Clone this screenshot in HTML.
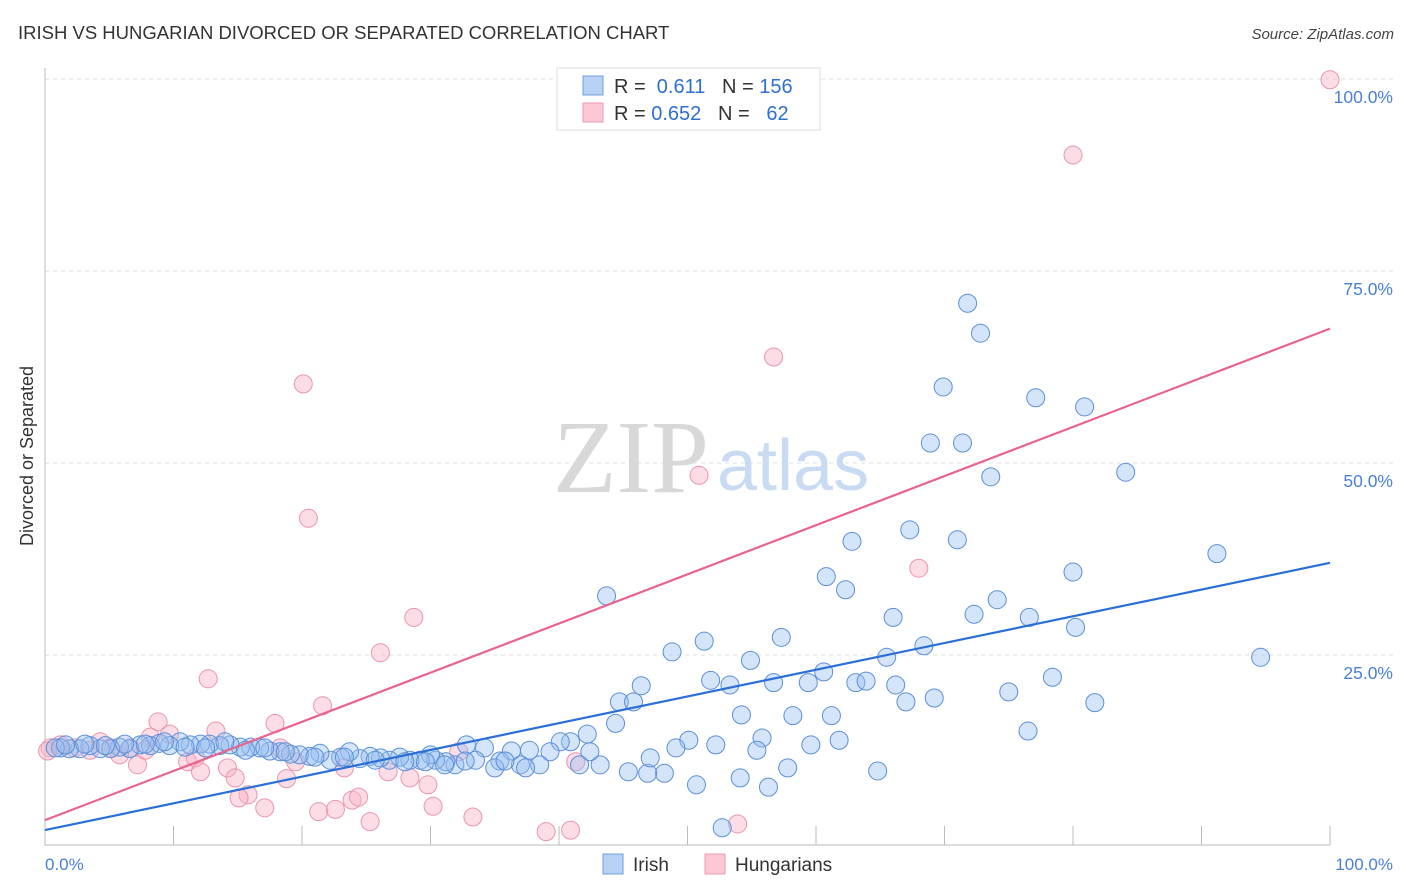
<!DOCTYPE html>
<html><head><meta charset="utf-8"><style>
body{margin:0;background:#fff;font-family:"Liberation Sans",sans-serif;}
svg{display:block}
</style></head><body>
<svg width="1406" height="892">
<text x="18" y="39" font-size="18.5" fill="#333">IRISH VS HUNGARIAN DIVORCED OR SEPARATED CORRELATION CHART</text>
<text x="1394" y="39" font-size="15" fill="#444" font-style="italic" text-anchor="end">Source: ZipAtlas.com</text>
<g id="grid"></g>
<text x="553" y="492" font-size="104" fill="#d8d8d8" font-family="Liberation Serif,serif">ZIP</text>
<text x="717" y="490" font-size="72" fill="#c9dbf2">atlas</text>
<line x1="45" y1="68" x2="45" y2="846" stroke="#bbb"/>
<line x1="45" y1="845" x2="1330" y2="845" stroke="#bbb"/>
<g id="ticks"></g>
<g id="pts"></g>
<g id="lines"></g>
<text x="33" y="456" font-size="18" fill="#333" text-anchor="middle" transform="rotate(-90 33 456)">Divorced or Separated</text>
<text x="45" y="870" font-size="17" fill="#4a7fd4">0.0%</text>
<text x="1393" y="870" font-size="17" fill="#4a7fd4" text-anchor="end">100.0%</text>
<g>
<rect x="557" y="68" width="263" height="62" fill="#fff" stroke="#ddd"/>
<rect x="583" y="76" width="20" height="19" fill="#b8d2f5" stroke="#6d9ee0"/>
<rect x="583" y="103" width="20" height="19" fill="#fcc8d6" stroke="#ee9ab3"/>
<text x="614" y="93" font-size="20" fill="#333">R = <tspan fill="#2f6fd0">&#160;0.611</tspan>&#160;&#160;&#160;N = <tspan fill="#2f6fd0">156</tspan></text>
<text x="614" y="120" font-size="20" fill="#333">R = <tspan fill="#2f6fd0">0.652</tspan>&#160;&#160;&#160;N = <tspan fill="#2f6fd0">&#160;&#160;62</tspan></text>
</g>
<g>
<rect x="603" y="854" width="20" height="20" fill="#b8d2f5" stroke="#6d9ee0"/>
<text x="633" y="871" font-size="19" fill="#333">Irish</text>
<rect x="705" y="854" width="20" height="20" fill="#fcc8d6" stroke="#ee9ab3"/>
<text x="735" y="871" font-size="19" fill="#333">Hungarians</text>
</g>
</svg>
<script>
const yTicks=[25,50,75,100];
const yTickLabels=["25.0%","50.0%","75.0%","100.0%"];
const xTicks=[10,20,30,40,50,60,70,80,90,100];
const irishX=[43.7,44.7,45.8,44.4,46.4,48.8,51.3,51.8,53.3,54.9,54.2,57.3,56.7,59.4,60.6,60.8,62.3,62.8,61.2,63.1,63.9,66.0,65.5,66.2,67.0,67.3,68.4,68.9,69.9,71.0,71.4,71.8,72.8,73.6,72.3,74.1,76.6,77.1,80.9,84.1,80.0,80.2,78.4,75.0,91.2,94.6,81.7,76.5,69.2,64.8,61.8,59.6,58.2,55.8,55.4,54.1,56.3,57.8,52.2,50.7,52.7,50.1,49.1,48.2,46.9,47.1,45.4,43.2,42.4,41.6,42.2,40.9,40.1,39.3,38.5,37.7,37.0,36.3,35.4,35.0,34.2,33.5,32.8,31.9,31.2,30.4,30.0,29.2,28.4,27.6,26.8,26.1,25.3,24.5,23.7,23.0,22.2,21.4,20.6,19.8,19.1,18.3,17.5,16.7,16.0,15.2,14.4,13.6,12.8,12.1,11.3,10.5,9.7,8.9,8.2,7.4,6.6,5.8,5.1,4.3,3.5,2.7,1.9,1.2,0.8,1.6,3.1,4.7,6.2,7.8,9.3,10.9,12.5,14.0,15.6,17.1,18.7,21.0,23.3,25.7,28.0,29.6,31.1,32.7,35.8,37.4];
const irishY=[32.7,18.9,18.9,16.1,21.0,25.4,26.8,21.7,21.1,24.3,17.2,27.3,21.4,21.4,22.8,35.2,33.5,39.8,17.1,21.4,21.6,29.9,24.7,21.1,18.9,41.3,26.2,52.6,59.9,40.0,52.6,70.8,66.9,48.2,30.3,32.2,29.9,58.5,57.3,48.8,35.8,28.6,22.1,20.2,38.2,24.7,18.8,15.1,19.4,9.9,13.9,13.3,17.1,14.2,12.6,9.0,7.8,10.3,13.3,8.1,2.5,13.9,12.9,9.6,9.6,11.6,9.8,10.7,12.4,10.7,14.7,13.7,13.7,12.4,10.7,12.6,10.7,12.5,11.2,10.3,12.9,11.3,13.3,10.7,11.1,11.3,12.0,11.3,11.3,11.7,11.3,11.6,11.8,11.5,12.4,11.7,11.3,12.2,11.8,12.0,12.1,12.4,12.5,12.9,13.0,13.0,13.3,13.2,13.4,13.4,13.3,13.7,13.2,13.5,13.2,13.3,12.8,13.0,12.8,12.8,13.2,12.8,12.8,12.9,12.9,13.3,13.4,13.2,13.4,13.4,13.7,13.0,12.9,13.7,12.6,12.9,12.4,11.7,11.7,11.3,11.1,11.1,10.7,11.2,11.2,10.3];
const hungX=[100,80.0,56.7,20.1,20.5,50.9,68.0,28.7,26.1,12.7,21.6,8.8,17.9,13.3,9.7,8.2,4.3,1.2,0.4,2.3,6.6,11.1,11.7,7.2,14.2,14.8,15.8,15.1,17.1,18.8,19.5,21.3,22.6,23.3,23.9,24.4,25.3,26.7,28.4,29.8,30.2,32.2,33.3,39.0,40.9,41.3,53.9,12.1,5.8,5.1,7.8,18.3,3.5,0.2];
const hungY=[99.9,90.1,63.8,60.3,42.8,48.4,36.3,29.9,25.3,21.9,18.4,16.3,16.1,15.1,14.7,14.3,13.7,13.3,12.9,12.9,12.9,11.1,11.6,10.7,10.3,9.0,6.8,6.4,5.1,8.9,11.1,4.6,4.9,10.3,6.1,6.5,3.3,9.8,9.0,8.1,5.3,12.4,3.9,2.0,2.2,11.1,3.0,9.8,12.0,12.9,12.6,12.9,12.6,12.5];
const irishFit=[2.2,37.0];
const hungFit=[3.5,67.5];
const NS="http://www.w3.org/2000/svg";
const X=v=>45+v*12.85, Y=v=>847-v*7.68;
function mk(t,a,p){const e=document.createElementNS(NS,t);for(const k in a)e.setAttribute(k,a[k]);p.appendChild(e);return e;}
const grid=document.getElementById('grid');
yTicks.forEach((t,i)=>{
 const l=mk('line',{x1:45,x2:1395,y1:Y(t),y2:Y(t),stroke:'#e2e2e2','stroke-dasharray':'4,4'},grid);
 
 
 const tx=mk('text',{x:1393,y:Y(t)+24,'font-size':17.5,fill:'#4a7fd4','text-anchor':'end'},grid);
 tx.textContent=yTickLabels[i];
 
 
});
const tk=document.getElementById('ticks');
xTicks.forEach(t=>{
 const l=mk('line',{x1:X(t),x2:X(t),y1:826,y2:845,stroke:'#bbb'},tk);
 
 
});
const pts=document.getElementById('pts');
hungX.forEach((x,i)=>{
 const c=mk('circle',{cx:X(x),cy:Y(hungY[i]),r:9,fill:'rgba(248,180,200,0.45)',stroke:'#eb94af','stroke-width':1},pts);
 
 
});
irishX.forEach((x,i)=>{
 const c=mk('circle',{cx:X(x),cy:Y(irishY[i]),r:9,fill:'rgba(150,190,240,0.4)',stroke:'#5b8fd8','stroke-width':1},pts);
 
 
});
const ln=document.getElementById('lines');
const l1=mk('line',{x1:X(0),y1:Y(irishFit[0]),x2:X(100),y2:Y(irishFit[1]),stroke:'#2a6fd6','stroke-width':2.2},ln);


const l2=mk('line',{x1:X(0),y1:Y(hungFit[0]),x2:X(100),y2:Y(hungFit[1]),stroke:'#e8648e','stroke-width':2.2},ln);


</script>
</body></html>
